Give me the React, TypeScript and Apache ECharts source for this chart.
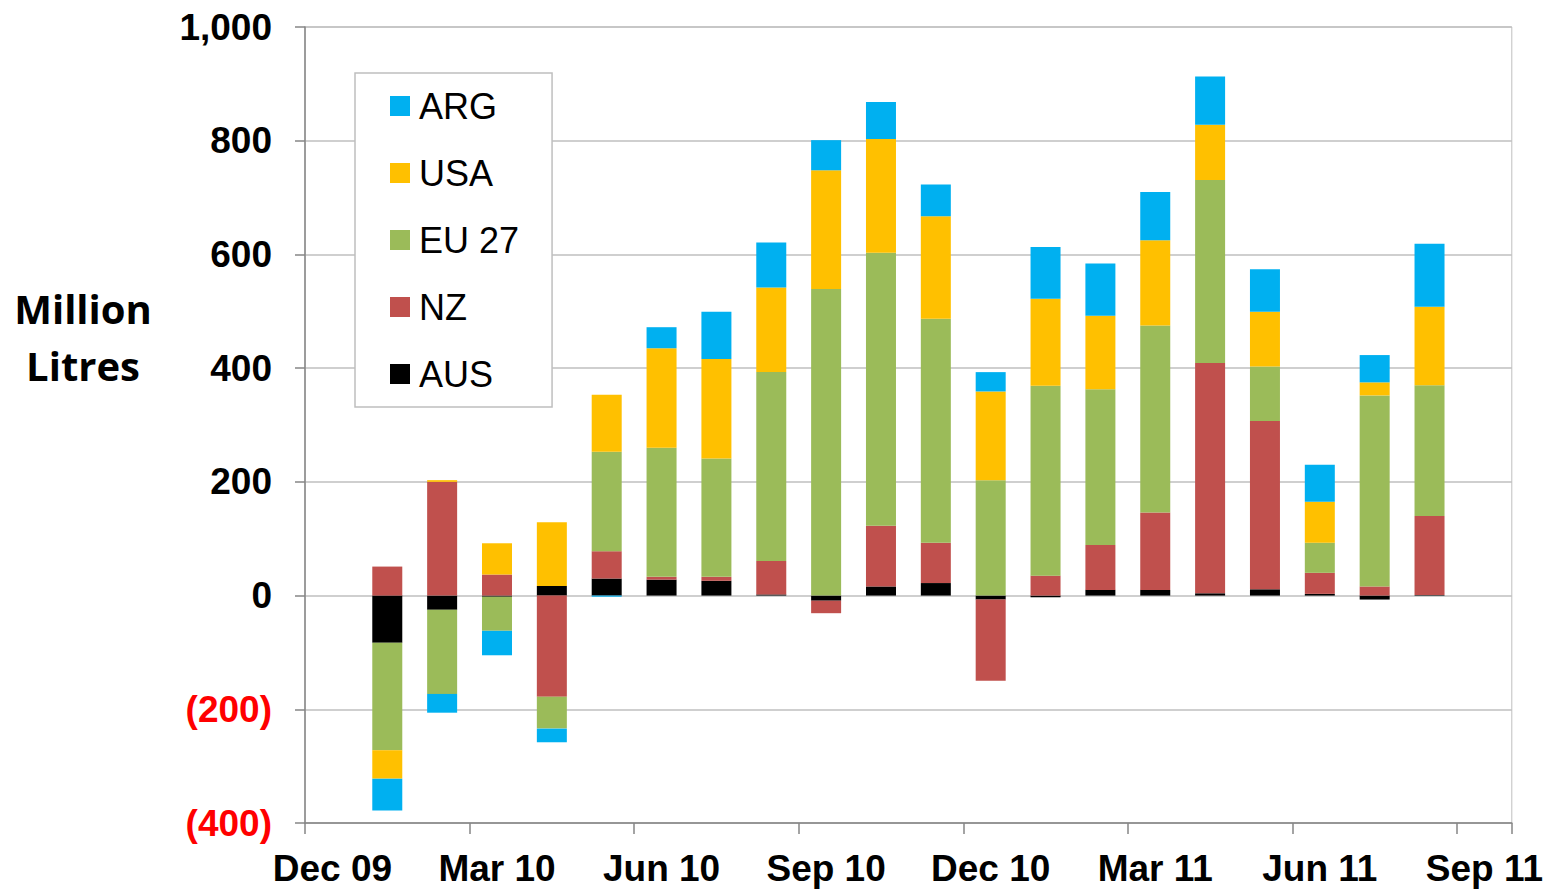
import React, { useEffect, useRef } from "react";
import * as echarts from "echarts";

const categories = [
  "Dec 09", "Jan 10", "Feb 10", "Mar 10", "Apr 10", "May 10", "Jun 10", "Jul 10", "Aug 10",
  "Sep 10", "Oct 10", "Nov 10", "Dec 10", "Jan 11", "Feb 11", "Mar 11", "Apr 11", "May 11",
  "Jun 11", "Jul 11", "Aug 11", "Sep 11",
];

const AUS = [null, -83, -25, -2, 17, 30, 28, 26, 2, -9, 16, 22, -7, -3, 10, 10, 4, 11, 3, -7, 1, null];
const NZ = [null, 51, 200, 37, -178, 48, 5, 7, 59, -22, 107, 71, -143, 35, 79, 136, 405, 296, 37, 16, 139, null];
const EU27 = [null, -189, -148, -60, -56, 175, 227, 208, 332, 539, 480, 394, 203, 334, 274, 329, 322, 96, 53, 336, 230, null];
const USA = [null, -50, 3, 55, 112, 100, 175, 175, 149, 209, 200, 180, 156, 153, 129, 150, 97, 96, 72, 23, 138, null];
const ARG = [null, -56, -33, -43, -24, -2, 37, 83, 79, 53, 65, 56, 34, 91, 92, 85, 85, 75, 65, 48, 111, null];

const seriesDefs = [
  { name: "AUS", data: AUS, color: "#000000" },
  { name: "NZ", data: NZ, color: "#C0504D" },
  { name: "EU 27", data: EU27, color: "#9BBB59" },
  { name: "USA", data: USA, color: "#FFC000" },
  { name: "ARG", data: ARG, color: "#00B0F0" },
];
const legendOrder = ["ARG", "USA", "EU 27", "NZ", "AUS"];

const FONT = "'Liberation Sans', Arial, sans-serif";

export default function App() {
  const ref = useRef<HTMLDivElement>(null);
  useEffect(() => {
    if (!ref.current) return;
    const chart = echarts.init(ref.current, null, { renderer: "svg" });
    chart.setOption({
      animation: false,
      backgroundColor: "#ffffff",
      grid: {
        left: 305, right: 34, top: 27, bottom: 66,
        show: true, borderColor: "#BFBFBF", borderWidth: 1, backgroundColor: "transparent",
      },
      legend: {
        data: legendOrder,
        orient: "vertical",
        left: 355,
        top: 73,
        itemWidth: 20,
        itemHeight: 20,
        itemGap: 27,
        padding: [13, 33, 13, 35],
        backgroundColor: "#ffffff",
        borderColor: "#BFBFBF",
        borderWidth: 1.5,
        icon: "rect",
        textStyle: { fontFamily: FONT, fontSize: 36, color: "#000", lineHeight: 40, padding: [0, 0, 0, 4] },
      },
      graphic: [
        {
          type: "text",
          x: 83,
          y: 337,
          style: {
            text: "Million\nLitres",
            fontFamily: "'Open Sans', sans-serif",
            fontWeight: "bold",
            fontSize: 40,
            lineHeight: 57,
            fill: "#000",
            align: "center",
            verticalAlign: "middle",
          },
        },
      ],
      xAxis: {
        type: "category",
        data: categories,
        boundaryGap: true,
        axisLine: { onZero: false, lineStyle: { color: "#868686", width: 1.5 } },
        axisTick: { show: true, interval: 2, length: 11, lineStyle: { color: "#868686", width: 1.5 } },
        axisLabel: {
          interval: 2, fontFamily: FONT, fontSize: 37, fontWeight: "bold", color: "#000", margin: 27,
        },
        splitLine: { show: false },
      },
      yAxis: {
        type: "value",
        min: -400,
        max: 1000,
        interval: 200,
        axisLine: { show: true, lineStyle: { color: "#868686", width: 1.5 } },
        axisTick: { show: true, length: 10, lineStyle: { color: "#868686", width: 1.5 } },
        axisLabel: {
          fontFamily: FONT, fontSize: 37, fontWeight: "bold", margin: 33,
          formatter: (v: number) => {
            const s = Math.abs(v).toLocaleString("en-US");
            return v < 0 ? `(${s})` : s;
          },
          color: (v: any) => (Number(v) < 0 ? "#FF0000" : "#000000"),
        },
        splitLine: { show: true, lineStyle: { color: "#BFBFBF", width: 1.5 } },
      },
      series: seriesDefs.map((s) => ({
        name: s.name,
        type: "bar",
        stack: "total",
        barWidth: 30,
        data: s.data,
        itemStyle: { color: s.color },
      })),
    });
    return () => chart.dispose();
  }, []);
  return <div ref={ref} style={{ position: "absolute", left: 0, top: 0, width: 1546, height: 889 }} />;
}
